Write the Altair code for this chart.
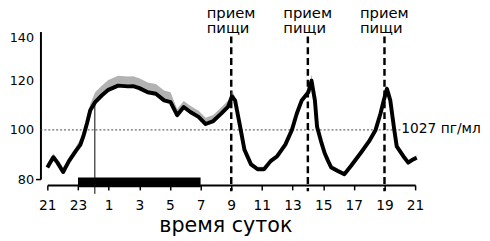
import altair as alt
import pandas as pd

# hours since 21:00 (0 = 21:00, 24 = 21:00 next day)
hours = [0.0, 0.39, 0.66, 1.03, 1.41, 1.84, 2.16, 2.38, 2.59, 2.80, 3.12, 3.55, 3.98, 4.62,
         5.26, 5.60, 6.00, 6.55, 7.08, 7.62, 8.04, 8.47, 8.90, 9.33, 9.87, 10.33, 10.83,
         11.36, 11.80, 12.05, 12.25, 12.54, 12.86, 13.29, 13.72, 14.14, 14.57, 15.00, 15.53,
         15.96, 16.28, 16.60, 17.03, 17.24, 17.46, 17.60, 17.89, 18.10, 18.31, 18.53, 18.95,
         19.38, 19.81, 20.46, 20.99, 21.42, 21.74, 21.95, 22.16, 22.38, 22.64, 22.80, 23.23,
         23.55, 23.87, 24.10]
values = [84.7, 88.9, 86.7, 82.9, 87.3, 91.3, 94.0, 98.0, 102.7, 108.0, 111.3, 114.0, 116.3,
          118.0, 117.7, 117.8, 117.0, 115.3, 114.7, 112.0, 111.3, 106.0, 109.3, 107.3, 105.3,
          102.4, 103.6, 106.7, 109.5, 113.6, 112.0, 102.7, 92.0, 86.0, 84.0, 84.0, 87.3, 89.3,
          94.0, 100.0, 106.7, 112.0, 115.3, 120.0, 112.0, 101.3, 94.7, 90.5, 87.5, 84.7, 83.3,
          82.0, 85.3, 90.7, 95.3, 100.0, 106.7, 112.0, 116.7, 112.0, 100.0, 93.3, 89.3, 86.7,
          88.0, 88.7]
# height of the grey scatter above the mean curve
noise = [1.5, 1.5, 1.5, 1.5, 1.5, 1.5, 2.5, 2.5, 2.5, 2.5,
         4, 4, 4, 4, 4, 4, 4, 4, 4, 4, 4,
         2.5, 2.5, 2.5, 2.5, 2.5, 2.5, 2.5, 2.5, 2.5,
         1.5,
         1, 1, 1, 1, 1, 1, 1, 1, 1, 1, 1, 1,
         2.5,
         1, 1, 1, 1, 1, 1, 1, 1, 1, 1, 1, 1, 1, 1,
         1.5,
         1, 1, 1, 1, 1, 1, 1]

tick_hours = [0, 2, 4, 6, 8, 10, 12, 14, 16, 18, 20, 22, 24]
y_ticks = [80, 100, 120, 140]
meal_hours = [12, 17, 22]          # 9:00, 14:00, 19:00
meal_label = "прием\nпищи"
sleep_start, sleep_end = 2, 10     # 23:00 - 7:00
onset_hour = 3.1                   # ~0:00
onset_top = 111.3
ref_level = 100
ref_label = "1027 пг/мл"
x_title = "время суток"

df = pd.DataFrame({"h": hours, "v": values, "v2": [a + b for a, b in zip(values, noise)]})

xs = alt.Scale(domain=[0, 24], nice=False, zero=False)
ys = alt.Scale(domain=[80, 140], nice=False, zero=False)

xaxis = alt.Axis(values=tick_hours, labelExpr="(datum.value + 21) % 24", title=x_title,
                 offset=6, tickSize=5, tickWidth=1.5, labelPadding=9, labelFontSize=14,
                 domainWidth=2, grid=False, titleFontSize=21, titleFontWeight="normal",
                 titleBaseline="alphabetic", titleY=47, titleX=181, titleAlign="center",
                 labelFlush=False)
yaxis = alt.Axis(values=y_ticks, title=None, offset=7, tickSize=5, tickWidth=1.5,
                 tickOpacity={"condition": {"test": "datum.value == 80", "value": 1}, "value": 0},
                 labelOffset={"condition": {"test": "datum.value == 140", "value": 6}, "value": 0},
                 labelPadding=2, labelFontSize=13, domainWidth=2, grid=False)

X = lambda f="h": alt.X(f"{f}:Q", scale=xs, axis=xaxis)
Y = lambda f="v": alt.Y(f"{f}:Q", scale=ys, axis=yaxis)

ref_df = pd.DataFrame({"h": [-0.45], "h2": [23.15], "v": [ref_level]})
ref_rule = alt.Chart(ref_df).mark_rule(color="#444", strokeWidth=1, strokeDash=[2, 2]).encode(
    x=X(), x2="h2:Q", y=Y())

sleep_df = pd.DataFrame({"h": [sleep_start], "h2": [sleep_end], "v": [80.6], "v2": [76.7]})
sleep_bar = alt.Chart(sleep_df).mark_rect(color="black").encode(
    x=X(), x2="h2:Q", y=Y(), y2="v2:Q")

onset_df = pd.DataFrame({"h": [onset_hour], "v": [onset_top], "v2": [74]})
onset_rule = alt.Chart(onset_df).mark_rule(color="black", strokeWidth=1).encode(
    x=X(), y=Y(), y2="v2:Q")

meal_df = pd.DataFrame({"h": meal_hours, "v": [138] * 3, "v2": [75] * 3,
                        "t": [meal_label] * 3, "vt": [145.4] * 3})
meal_rules = alt.Chart(meal_df).mark_rule(color="black", strokeWidth=2.5,
                                          strokeDash=[7, 4]).encode(x=X(), y=Y(), y2="v2:Q")
meal_text = alt.Chart(meal_df).mark_text(align="left", dx=-25, baseline="alphabetic",
                                         lineBreak="\n", lineHeight=15, fontSize=15,
                                         color="black").encode(
    x=X(), y=Y("vt"), text="t:N")

band = alt.Chart(df).mark_area(color="#666", opacity=0.5).encode(x=X(), y=Y(), y2="v2:Q")
line = alt.Chart(df).mark_line(color="black", strokeWidth=4, strokeJoin="round").encode(
    x=X(), y=Y())

lab_df = pd.DataFrame({"h": [23.1], "v": [ref_level], "t": [ref_label]})
ref_text = alt.Chart(lab_df).mark_text(align="left", baseline="middle", dy=-1, fontSize=14,
                                       color="black").encode(x=X(), y=Y(), text="t:N")

chart = alt.layer(ref_rule, sleep_bar, onset_rule, meal_rules, band, line, meal_text,
                  ref_text).properties(
    width=374, height=150,
    autosize=alt.AutoSizeParams(type="none"),
    padding={"left": 40, "top": 22, "right": 68, "bottom": 61},
).configure(font="DejaVu Sans").configure_view(stroke=None).configure_axis(
    labelColor="black", domainColor="black", tickColor="black", titleColor="black",
    labelFont="DejaVu Sans", titleFont="DejaVu Sans")

chart.save("out.html", embed_options={"renderer": "svg", "actions": False})
